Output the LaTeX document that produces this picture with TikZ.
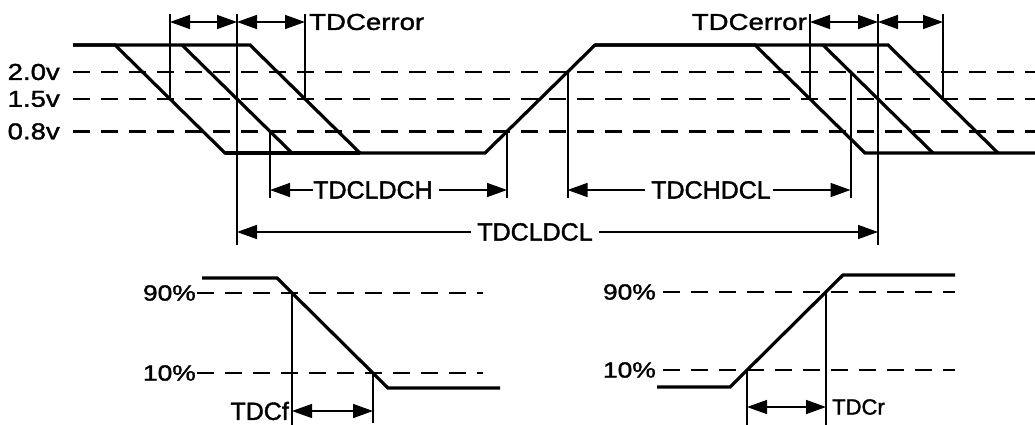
\documentclass[tikz,border=0pt]{standalone}
\usepackage{fontspec}
\setmainfont[FakeBold=1.5,AutoFakeBold=1.5]{Liberation Sans}
\newfontfamily\widefont[FakeStretch=1.2,FakeBold=1.5]{Liberation Sans}
\usetikzlibrary{arrows.meta,calc}
\begin{document}
\begin{tikzpicture}[x=1pt,y=-1pt,
  wave/.style={line width=3.2pt, line join=miter},
  lvl/.style={line width=2.8pt, dash pattern=on 17pt off 11pt},
  vline/.style={line width=2pt},
  dim/.style={line width=1.5pt, {Triangle[length=20pt,width=14pt]}-{Triangle[length=20pt,width=14pt]}},
  ldim/.style={line width=1.5pt, -{Triangle[length=20pt,width=14pt]}},
  lbl/.style={font=\fontsize{25}{25}\selectfont, inner sep=0pt},
  vlbl/.style={font=\widefont\fontsize{23}{23}\selectfont, inner sep=0pt, anchor=east},
  plbl/.style={font=\widefont\fontsize{22}{22}\selectfont, inner sep=0pt, anchor=east},
  errlbl/.style={font=\widefont\fontsize{23}{23}\selectfont, inner sep=0pt}]
\useasboundingbox (0,0) rectangle (1035,425);

% ---------- top diagram ----------
\node[vlbl] (v20) at (60,72) {2.0v};
\node[vlbl] (v15) at (60,99) {1.5v};
\node[vlbl] (v08) at (60,131.4) {0.8v};
\draw[lvl] (73,72) -- (1035,72);
\draw[lvl] (73,99) -- (1035,99);
\draw[lvl] (73,131.4) -- (1035,131.4);

% edges
\coordinate (f1a) at (115,45);  \coordinate (f1b) at (225,153);
\coordinate (f2a) at (182,45);  \coordinate (f2b) at (292,153);
\coordinate (f3a) at (250,45);  \coordinate (f3b) at (360,153);
\coordinate (ra)  at (485,153); \coordinate (rb)  at (595,45);
\coordinate (g1a) at (755,45);  \coordinate (g1b) at (865,153);
\coordinate (g2a) at (823,45);  \coordinate (g2b) at (933,153);
\coordinate (g3a) at (888,45);  \coordinate (g3b) at (998,153);

\draw[wave] (73,45) -- (f1a) -- (f1b) -- (ra) -- (rb) -- (g1a) -- (g1b) -- (1035,153);
\draw[wave] (73,45) -- (f3a) -- (f3b);
\draw[wave] (f2a) -- (f2b);
\draw[wave] (rb) -- (g3a) -- (g3b);
\draw[wave] (g2a) -- (g2b);
\draw[wave] (f1b) -- (f3b);

% crossings
\coordinate (e1) at ($(f1a)!.5!(f1b)$);
\coordinate (e2) at ($(f2a)!.5!(f2b)$);
\coordinate (e3) at ($(f3a)!.5!(f3b)$);
\coordinate (e4) at ($(f2a)!.8!(f2b)$);
\coordinate (e5) at ($(ra)!.2!(rb)$);
\coordinate (e6) at ($(ra)!.75!(rb)$);
\coordinate (k1) at ($(g1a)!.5!(g1b)$);
\coordinate (k2) at ($(g2a)!.5!(g2b)$);
\coordinate (k3) at ($(g3a)!.5!(g3b)$);
\coordinate (k4) at ($(g2a)!.25!(g2b)$);

\coordinate (top) at (0,14);
\coordinate (arr) at (0,22);
\coordinate (mid) at (0,198);
\coordinate (bot) at (0,245);

\draw[vline] (e1) -- (e1 |- top);
\draw[vline] (e3) -- (e3 |- top);
\draw[vline] (e2 |- top) -- (e2 |- bot);
\draw[vline] (e4) -- (e4 |- mid);
\draw[vline] (e5) -- (e5 |- mid);
\draw[vline] (e6) -- (e6 |- mid);
\draw[vline] (k1) -- (k1 |- top);
\draw[vline] (k3) -- (k3 |- top);
\draw[vline] (k2 |- top) -- (k2 |- bot);
\draw[vline] (k4) -- (k4 |- mid);

% TDCerror arrows
\draw[dim] (e1 |- arr) -- (e2 |- arr);
\draw[dim] (e2 |- arr) -- (e3 |- arr);
\node[errlbl, anchor=west] (errL) at ($(e3 |- arr)+(4,0)$) {TDCerror};
\draw[dim] (k1 |- arr) -- (k2 |- arr);
\draw[dim] (k2 |- arr) -- (k3 |- arr);
\node[errlbl, anchor=east] (errR) at ($(k1 |- arr)+(-3,0)$) {TDCerror};

% TDCLDCH
\coordinate (yLH) at (0,190);
\node[lbl] (tLH) at (373,190) {TDCLDCH};
\draw[ldim] (tLH.west) -- (e4 |- yLH);
\draw[ldim] ($(tLH.east)+(6,0)$) -- (e5 |- yLH);
% TDCHDCL
\node[lbl] (tHL) at (711,190) {TDCHDCL};
\draw[ldim] ($(tHL.west)+(-6,0)$) -- (e6 |- yLH);
\draw[ldim] ($(tHL.east)+(2,0)$) -- (k4 |- yLH);
% TDCLDCL
\coordinate (yLL) at (0,232);
\node[lbl] (tLL) at (535,232) {TDCLDCL};
\draw[ldim] ($(tLL.west)+(-6,0)$) -- (e2 |- yLL);
\draw[ldim] ($(tLL.east)+(6,0)$) -- (k2 |- yLL);

% ---------- bottom left: fall ----------
\node[plbl] (p90a) at (196,293) {90\%};
\node[plbl] (p10a) at (196,373) {10\%};
\draw[lvl] (197,293) -- (483,293);
\draw[lvl] (197,373) -- (483,373);
\coordinate (fa) at (277,278); \coordinate (fb) at (388,388);
\draw[wave] (202,278) -- (fa) -- (fb) -- (500,388);
\coordinate (fx1) at (292,293);
\coordinate (fx2) at (373,373);
\coordinate (fy) at (0,411);
\draw[vline] (fx1) -- (fx1 |- 0,425);
\draw[vline] (fx2) -- (fx2 |- 0,423);
\draw[dim] (fx1 |- fy) -- (fx2 |- fy);
\node[lbl, anchor=east, font=\fontsize{25}{25}\selectfont] (tf) at ($(fx1 |- fy)+(-3,0)$) {TDCf};

% ---------- bottom right: rise ----------
\node[plbl] (p90b) at (656,292) {90\%};
\node[plbl] (p10b) at (656,370) {10\%};
\draw[lvl] (663,292) -- (955,292);
\draw[lvl] (663,370) -- (955,370);
\coordinate (rra) at (730,387); \coordinate (rrb) at (843,275);
\draw[wave] (657,387) -- (rra) -- (rrb) -- (955,275);
\coordinate (rx1) at (747,370);
\coordinate (rx2) at (826,292);
\coordinate (ry) at (0,407);
\draw[vline] (rx1) -- (rx1 |- 0,425);
\draw[vline] (rx2) -- (rx2 |- 0,425);
\draw[dim] (rx1 |- ry) -- (rx2 |- ry);
\node[lbl, anchor=west, font=\fontsize{22}{22}\selectfont] (tr) at ($(rx2 |- ry)+(6,0)$) {TDCr};
\end{tikzpicture}
\end{document}
